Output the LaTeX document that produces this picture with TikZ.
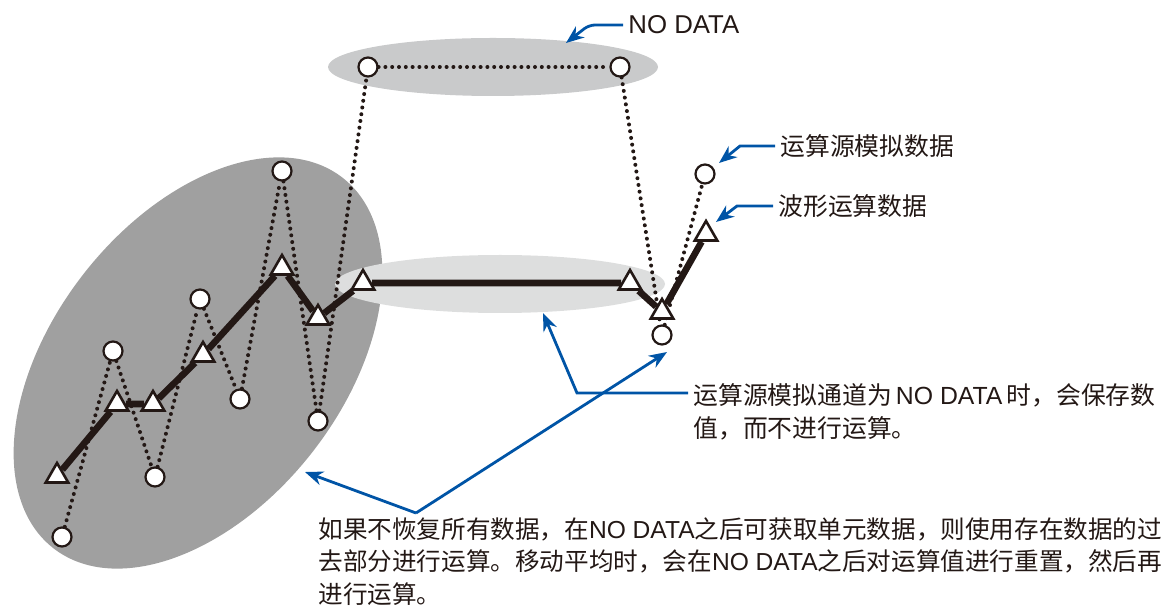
\documentclass[tikz,border=0pt]{standalone}
\usepackage{fontspec}
\setmainfont{Noto Sans CJK SC}
\newfontfamily\latin{Liberation Sans}
\usepackage{tikz}
\usetikzlibrary{arrows.meta,positioning,calc,shapes.geometric}
\definecolor{nblue}{RGB}{0,84,166}
\definecolor{ink}{RGB}{35,24,21}
\definecolor{darkfill}{RGB}{160,160,160}
\definecolor{topfill}{RGB}{201,202,203}
\definecolor{midfill}{RGB}{221,222,222}

\begin{document}
\begin{tikzpicture}[x=0.5pt,y=-0.5pt,
  blob/.style={ellipse,draw=none,inner sep=0pt},
  src/.style={circle,draw=ink,fill=white,line width=1.1pt,minimum size=9.5pt,inner sep=0pt},
  wave/.style={regular polygon,regular polygon sides=3,draw=ink,fill=white,line width=1.3pt,minimum size=13pt,inner sep=0pt},
  dotline/.style={ink,line width=2pt,line cap=round,dash pattern=on 0pt off 3.4pt},
  waveline/.style={ink,line width=3.3pt},
  arr/.style={-{Stealth[length=9pt,width=7pt]},nblue,line width=1.4pt},
  lbl/.style={text=ink,inner sep=2.5pt,font=\fontsize{12.4}{16.5}\selectfont}]
\useasboundingbox (0,0) rectangle (1176,608);
% shaded regions
\node[blob,fill=darkfill,minimum width=235pt,minimum height=145pt,rotate=52] (past) at (198,363) {};
\node[blob,fill=topfill,minimum width=165pt,minimum height=29pt] (gap) at (493,67) {};
\node[blob,fill=midfill,minimum width=165pt,minimum height=29pt] (hold) at (500,284) {};
% source analog data
\node[src] (c1) at (62,537) {};
\node[src] (c2) at (113,351) {};
\node[src] (c3) at (155,477) {};
\node[src] (c4) at (200,299) {};
\node[src] (c5) at (240,399) {};
\node[src] (c6) at (282,171) {};
\node[src] (c7) at (318,421) {};
\node[src] (c8) at (368,67) {};
\node[src] (c9) at (620,67) {};
\node[src] (c10) at (662,335) {};
\node[src] (c11) at (705,174) {};
\draw[dotline] (c1)--(c2)--(c3)--(c4)--(c5)--(c6)--(c7)--(c8)--(c9)--(c10)--(c11);
% waveform calc data
\node[wave] (t1) at (57,476) {};
\node[wave] (t2) at (117,404) {};
\node[wave] (t3) at (153,404) {};
\node[wave] (t4) at (203,355) {};
\node[wave] (t5) at (282,268) {};
\node[wave] (t6) at (318,318) {};
\node[wave] (t7) at (363,283) {};
\node[wave] (t8) at (630,283) {};
\node[wave] (t9) at (662,312) {};
\node[wave] (t10) at (706,234) {};
\draw[waveline] (t1)--(t2)--(t3)--(t4)--(t5)--(t6)--(t7)--(t8)--(t9)--(t10);
% labels
\node[lbl,anchor=west,font=\latin\fontsize{12.9}{15}\selectfont] (nodata) at (623,25) {NO DATA};
\node[lbl,anchor=west] (srclbl) at (775,146) {运算源模拟数据};
\node[lbl,anchor=west] (wavelbl) at (773,206) {波形运算数据};
\node[lbl,anchor=north west,align=left] (note) at (688,378)
  {运算源模拟通道为\,{\latin NO DATA}\,时，会保存数\\值，而不进行运算。};
\node[lbl,anchor=north west,align=left,font=\fontsize{12.3}{16.4}\selectfont] (memo) at (313,512)
  {如果不恢复所有数据，在{\latin NO DATA}之后可获取单元数据，则使用存在数据的过\\
   去部分进行运算。移动平均时，会在{\latin NO DATA}之后对运算值进行重置，然后再\\
   进行运算。};
% callouts
\coordinate (ndtip) at (566,43);
\coordinate (srctip) at (719,163);
\coordinate (wavetip) at (716,222);
\coordinate (notetip) at (543,313);
\coordinate (holdtip) at (667,352);
\coordinate (pasttip) at (305,472);
\coordinate (fork) at ($(memo.north west)+(103,1)$);
\draw[arr,rounded corners=3pt] (nodata.west) -- ++(-34,0) -- (ndtip);
\draw[arr] (srclbl.west) -- ++(-35,0) -- (srctip);
\draw[arr] (wavelbl.west) -- ++(-36,0) -- (wavetip);
\draw[arr] ($(note.north west)+(0,15)$) -- ++(-111,0) -- (notetip);
\draw[arr] (fork) -- (pasttip);
\draw[arr] (fork) -- (holdtip);
\end{tikzpicture}
\end{document}
